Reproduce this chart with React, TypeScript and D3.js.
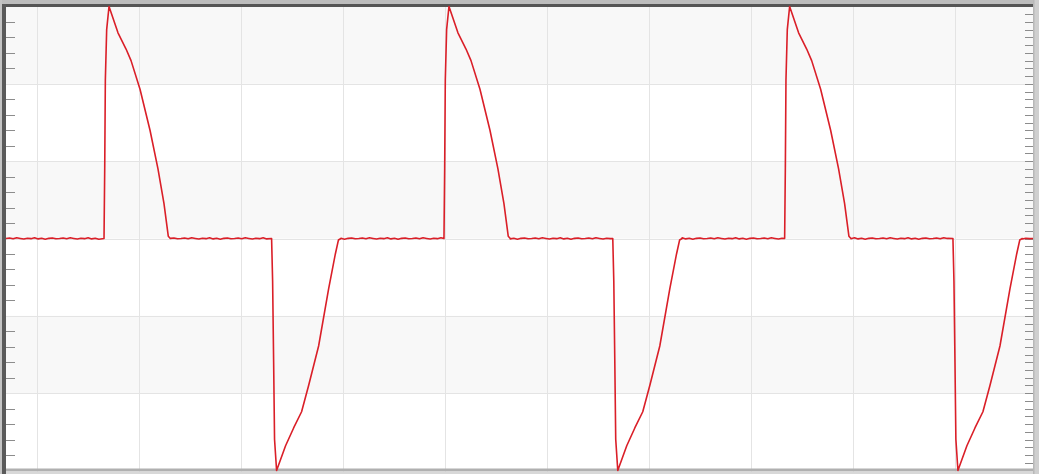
import * as d3 from "d3";
import { useEffect, useRef } from "react";

// time in divisions (one vertical grid line per division), amplitude in volts
const timeDomain = [-0.304, 9.765];
const voltDomain = [-3, 3];
const gridTimes = [0, 1, 2, 3, 4, 5, 6, 7, 8, 9];
const gridVolts = [-2, -1, 0, 1, 2];
const shadedBands = [[2, 3], [0, 1], [-2, -1]];

// where each edge of the trace starts
const posPulseStarts = [0.657, 3.99, 7.33];
const negPulseStarts = [2.3, 5.645, 8.98];

// pulse shape: offset from edge start, value
const posShapeT = [0, 0.007, 0.013, 0.026, 0.049, 0.137, 0.216, 0.265, 0.353, 0.451, 0.529, 0.588, 0.63, 0.65];
const posShapeV = [0, 0.92, 2.05, 2.7, 3.0, 2.66, 2.45, 2.3, 1.93, 1.4, 0.9, 0.45, 0.03, 0];
const negShapeT = [0, 0.01, 0.02, 0.029, 0.049, 0.137, 0.216, 0.294, 0.363, 0.461, 0.559, 0.625, 0.655, 0.68];
const negShapeV = [0, -0.55, -1.6, -2.6, -3.0, -2.68, -2.45, -2.24, -1.9, -1.39, -0.65, -0.2, -0.02, 0];

// small wobble on the flat parts
const baselineRipple = [0, 0.006, -0.004, 0.009, 0.001, -0.007, 0.004, -0.002, 0.01, -0.005, 0.003, -0.009, 0.002, 0.007, -0.003];

const W = 1039;
const H = 474;

function buildTrace() {
  const edges = [
    ...posPulseStarts.map((t) => ({ t, st: posShapeT, sv: posShapeV })),
    ...negPulseStarts.map((t) => ({ t, st: negShapeT, sv: negShapeV })),
  ].sort((a, b) => a.t - b.t);

  const pts: [number, number][] = [];
  let cursor = timeDomain[0];
  let k = 0;
  const flat = (from: number, to: number) => {
    for (let t = from; t < to - 0.02; t += 0.035) {
      pts.push([t, baselineRipple[k++ % baselineRipple.length]]);
    }
  };
  edges.forEach((e) => {
    flat(cursor, e.t);
    e.st.forEach((dt, i) => pts.push([e.t + dt, e.sv[i]]));
    cursor = e.t + e.st[e.st.length - 1];
  });
  flat(cursor, timeDomain[1]);
  pts.push([timeDomain[1], 0]);
  return pts;
}

export default function App() {
  const ref = useRef<SVGSVGElement | null>(null);

  useEffect(() => {
    const svg = d3.select(ref.current);
    svg.selectAll("*").remove();

    const x = d3.scaleLinear().domain(timeDomain).range([6, 1033]);
    const y = d3.scaleLinear().domain(voltDomain).range([470.5, 6.5]);

    svg.append("rect").attr("width", W).attr("height", H).attr("fill", "#fff");

    // shaded bands
    svg
      .append("g")
      .selectAll("rect")
      .data(shadedBands)
      .join("rect")
      .attr("x", x(timeDomain[0]))
      .attr("width", x(timeDomain[1]) - x(timeDomain[0]))
      .attr("y", (d) => y(d[1]))
      .attr("height", (d) => y(d[0]) - y(d[1]))
      .attr("fill", "#f8f8f8");

    // grid
    const grid = svg.append("g").attr("stroke", "#e4e4e4").attr("stroke-width", 1);
    grid
      .selectAll("line.v")
      .data(gridTimes)
      .join("line")
      .attr("x1", (d) => Math.round(x(d)) + 0.5)
      .attr("x2", (d) => Math.round(x(d)) + 0.5)
      .attr("y1", 0)
      .attr("y2", H);
    grid
      .selectAll("line.h")
      .data(gridVolts)
      .join("line")
      .attr("x1", 0)
      .attr("x2", W)
      .attr("y1", (d) => Math.round(y(d)) + 0.5)
      .attr("y2", (d) => Math.round(y(d)) + 0.5);

    // frame
    const frame = svg.append("g");
    frame.append("rect").attr("x", 0).attr("y", 0).attr("width", W).attr("height", 4).attr("fill", "#bdbdbd");
    frame.append("rect").attr("x", 0).attr("y", 4).attr("width", 1033).attr("height", 3).attr("fill", "#555");
    frame.append("rect").attr("x", 0).attr("y", 0).attr("width", 2).attr("height", H).attr("fill", "#c4c4c4");
    frame.append("rect").attr("x", 2).attr("y", 4).attr("width", 4).attr("height", H - 4).attr("fill", "#5a5a5a");
    frame.append("rect").attr("x", 6).attr("y", 468.5).attr("width", 1027).attr("height", 3).attr("fill", "#b0b0b0");
    frame.append("rect").attr("x", 6).attr("y", 471.5).attr("width", 1027).attr("height", 2.5).attr("fill", "#d8d8d8");
    frame.append("rect").attr("x", 1033).attr("y", 0).attr("width", 6).attr("height", H).attr("fill", "#cfcfcf");
    frame.append("rect").attr("x", 1033).attr("y", 0).attr("width", 1.5).attr("height", H).attr("fill", "#b8b8b8");

    // minor ticks: left every 1/5 division, right every 1/10 division
    const leftTicks = d3.range(-15, 16).map((i) => i / 5);
    const rightTicks = d3.range(-30, 31).map((i) => i / 10);
    svg
      .append("g")
      .attr("stroke", "#8c8c8c")
      .selectAll("line")
      .data(leftTicks.filter((v) => !Number.isInteger(v)))
      .join("line")
      .attr("x1", 6)
      .attr("x2", 15)
      .attr("y1", (d) => Math.round(y(d)) + 0.5)
      .attr("y2", (d) => Math.round(y(d)) + 0.5);
    svg
      .append("g")
      .attr("stroke", "#8c8c8c")
      .selectAll("line")
      .data(rightTicks.filter((v) => Math.abs(v) < 3))
      .join("line")
      .attr("x1", 1025)
      .attr("x2", 1033)
      .attr("y1", (d) => Math.round(y(d)) + 0.5)
      .attr("y2", (d) => Math.round(y(d)) + 0.5);

    // trace
    const line = d3
      .line<[number, number]>()
      .x((d) => x(d[0]))
      .y((d) => y(d[1]));
    svg
      .append("path")
      .attr("d", line(buildTrace()))
      .attr("fill", "none")
      .attr("stroke", "#da1f28")
      .attr("stroke-width", 1.6)
      .attr("stroke-linejoin", "round");
  }, []);

  return (
    <svg
      ref={ref}
      width={W}
      height={H}
      style={{ position: "absolute", left: 0, top: 0, display: "block" }}
    />
  );
}
